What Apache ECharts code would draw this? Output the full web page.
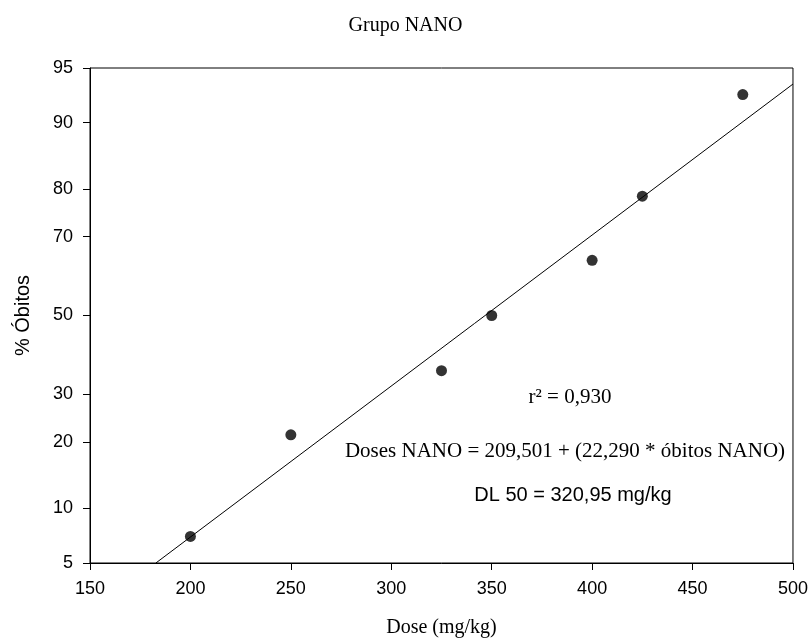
<!DOCTYPE html>
<html>
<head>
<meta charset="utf-8">
<script src="https://cdn.jsdelivr.net/npm/echarts@6/dist/echarts.min.js"></script>
<style>
  html, body { margin: 0; padding: 0; background: #fff; }
  #chart { width: 811px; height: 644px; }
</style>
</head>
<body>
<div id="chart"></div>
<script>
// dados
var doses = [200, 250, 325, 350, 400, 425, 475];
var obitosPct = [7.1, 21.4, 35.7, 50, 64.3, 78.6, 92.9];
// reta de regressão (extremos lidos)
var lineDoses = [182.8, 500];
var linePct = [5, 93.8];
var yTickPct = [5, 10, 20, 30, 50, 70, 80, 90, 95];

// escala probit: pct -> z
function probit(p) {
  p = p / 100;
  var a = [-39.69683028665376, 220.9460984245205, -275.9285104469687, 138.3577518672690, -30.66479806614716, 2.506628277459239];
  var b = [-54.47609879822406, 161.5858368580409, -155.6989798598866, 66.80131188771972, -13.28068155288572];
  var c = [-0.007784894002430293, -0.3223964580411365, -2.400758277161838, -2.549732539343734, 4.374664141464968, 2.938163982698783];
  var d = [0.007784695709041462, 0.3224671290700398, 2.445134137142996, 3.754408661907416];
  var q, r;
  if (p < 0.02425) {
    q = Math.sqrt(-2 * Math.log(p));
    return (((((c[0]*q+c[1])*q+c[2])*q+c[3])*q+c[4])*q+c[5]) / ((((d[0]*q+d[1])*q+d[2])*q+d[3])*q+1);
  } else if (p > 1 - 0.02425) {
    q = Math.sqrt(-2 * Math.log(1 - p));
    return -(((((c[0]*q+c[1])*q+c[2])*q+c[3])*q+c[4])*q+c[5]) / ((((d[0]*q+d[1])*q+d[2])*q+d[3])*q+1);
  }
  q = p - 0.5; r = q * q;
  return (((((a[0]*r+a[1])*r+a[2])*r+a[3])*r+a[4])*r+a[5])*q / (((((b[0]*r+b[1])*r+b[2])*r+b[3])*r+b[4])*r+1);
}

var yTickZ = yTickPct.map(probit);
var zMin = probit(5), zMax = probit(95);

function zToLabel(v) {
  for (var i = 0; i < yTickZ.length; i++) {
    if (Math.abs(yTickZ[i] - v) < 1e-6) return String(yTickPct[i]);
  }
  return '';
}

var points = doses.map(function (x, i) { return [x, probit(obitosPct[i])]; });
var regLine = lineDoses.map(function (x, i) { return [x, probit(linePct[i])]; });

var chart = echarts.init(document.getElementById('chart'));
chart.setOption({
  animation: false,
  backgroundColor: '#fff',
  title: {
    text: 'Grupo NANO',
    left: 'center',
    top: 11,
    textStyle: { fontFamily: 'Liberation Serif', fontSize: 20, fontWeight: 'normal', color: '#000' }
  },
  grid: {
    left: 90, right: 16, top: 68, bottom: 81,
    show: true, borderColor: '#000', borderWidth: 1
  },
  xAxis: {
    type: 'value',
    min: 150, max: 500, interval: 50,
    name: 'Dose (mg/kg)',
    nameLocation: 'middle',
    nameGap: 55,
    nameTextStyle: { fontFamily: 'Liberation Serif', fontSize: 20, color: '#000' },
    axisLine: { onZero: false, lineStyle: { color: '#000', width: 1 } },
    axisTick: { show: true, length: 7, lineStyle: { color: '#000' } },
    axisLabel: { fontFamily: 'Liberation Sans', fontSize: 18, color: '#000', margin: 17 },
    splitLine: { show: false }
  },
  yAxis: {
    type: 'value',
    min: zMin, max: zMax,
    name: '% Óbitos',
    nameLocation: 'middle',
    nameGap: 57,
    nameTextStyle: { fontFamily: 'Liberation Sans', fontSize: 20, color: '#000' },
    axisLine: { onZero: false, lineStyle: { color: '#000', width: 1 } },
    axisTick: { show: true, length: 7, customValues: yTickZ, lineStyle: { color: '#000' } },
    axisLabel: {
      fontFamily: 'Liberation Sans', fontSize: 18, color: '#000', margin: 17,
      customValues: yTickZ,
      formatter: zToLabel
    },
    splitLine: { show: false }
  },
  series: [
    {
      type: 'line',
      data: regLine,
      showSymbol: false,
      symbol: 'none',
      lineStyle: { color: '#000', width: 1 },
      z: 2
    },
    {
      type: 'scatter',
      data: points,
      symbol: 'circle',
      symbolSize: 11,
      itemStyle: { color: '#000' },
      z: 3
    }
  ],
  graphic: [
    {
      type: 'text', x: 570, y: 397,
      style: { text: 'r² = 0,930', align: 'center', verticalAlign: 'middle',
        font: '21px "Liberation Serif"', fill: '#000' }
    },
    {
      type: 'text', x: 565, y: 451,
      style: { text: 'Doses NANO = 209,501 + (22,290 * óbitos NANO)', align: 'center', verticalAlign: 'middle',
        font: '21px "Liberation Serif"', fill: '#000' }
    },
    {
      type: 'text', x: 573, y: 495,
      style: { text: 'DL 50 = 320,95 mg/kg', align: 'center', verticalAlign: 'middle',
        font: '20px "Liberation Sans"', fill: '#000' }
    }
  ]
});
</script>
</body>
</html>
